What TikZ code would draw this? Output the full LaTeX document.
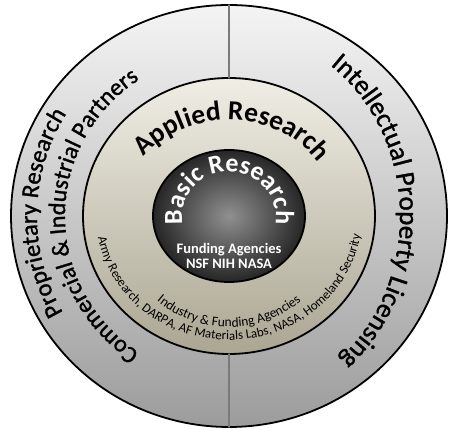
\documentclass[tikz,border=0pt]{standalone}
\usepackage{fontspec}
\setmainfont{Carlito}
\newfontfamily\heavyfont[FakeBold=1.2]{Carlito}
\usetikzlibrary{shapes.geometric,decorations.text}
\definecolor{outtop}{HTML}{F4F4F4}
\definecolor{outbot}{HTML}{9C9C9C}
\definecolor{midtop}{HTML}{F0EEE5}
\definecolor{midbot}{HTML}{ABA692}
\definecolor{inlight}{HTML}{909090}
\definecolor{indark}{HTML}{262626}
\definecolor{divgray}{HTML}{7A7A7A}
\tikzset{
  ring/.style={ellipse, draw=black, line width=1.8pt, inner sep=0pt, outer sep=0pt},
  divider/.style={draw=divgray, line width=1.4pt},
  arctext/.style={decorate, decoration={text along path, text align=center, text={#1}}},
}
\begin{document}
\begin{tikzpicture}[x=1pt, y=1pt, line join=round, line cap=round]
	\def\cx{229} \def\cy{214} % centre
	\useasboundingbox (0,0) rectangle (450,430);
	\coordinate (C) at (\cx,\cy);
	% rings
	\node[ring, minimum width=436pt, minimum height=422pt, top color=outtop, bottom color=outbot] (outer) at (C) {};
	\node[ring, minimum width=292pt, minimum height=276pt, top color=midtop, bottom color=midbot] (middle) at (C) {};
	\draw[divider] (outer.north) -- (middle.north);
	\draw[divider] (middle.south) -- (outer.south);
	\node[ring, minimum width=152pt, minimum height=132pt, inner color=inlight, outer color=indark] (inner) at (C) {};
	% outer ring
	\path[shift={(C)}, arctext={|\heavyfont\fontsize{24.5}{24.5}\selectfont|Proprietary Research}]
		(269:192 and 192) arc[start angle=269, end angle=89, x radius=192, y radius=192];
	\path[shift={(C)}, arctext={|\heavyfont\fontsize{24}{24}\selectfont|Commercial {\&} Industrial Partners}]
		(270:164 and 163) arc[start angle=270, end angle=90, x radius=164, y radius=163];
	\path[shift={(C)}, arctext={|\heavyfont\fontsize{27}{27}\selectfont|Intellectual Property Licensing}]
		(92:171 and 187) arc[start angle=92, end angle=-88, x radius=171, y radius=187];
	% middle ring
	\path[shift={(C)}, arctext={|\bfseries\fontsize{27.5}{27.5}\selectfont|Applied Research}]
		(178:108 and 96) arc[start angle=178, end angle=-2, x radius=108, y radius=96];
	\path[shift={(C)}, arctext={|\fontsize{13.5}{13.5}\selectfont|Industry {\&} Funding Agencies}]
		(180:112 and 111) arc[start angle=180, end angle=360, x radius=112, y radius=111];
	\path[shift={(C)}, arctext={|\fontsize{13}{13}\selectfont|Army Research, DARPA, AF Materials Labs, NASA, Homeland Security}]
		(175:133 and 124) arc[start angle=175, end angle=366, x radius=133, y radius=124];
	% inner disc
	\path[shift={(C)}, decorate, decoration={text along path, text align=center, text color=white,
		text={|\bfseries\fontsize{26}{26}\selectfont|Basic Research}}]
		(210:47 and 44) arc[start angle=210, end angle=-30, x radius=47, y radius=44];
	\node[font=\bfseries\fontsize{14.5}{15}\selectfont, text=white, align=center] (funding) at (229,174.5) {Funding Agencies\\NSF NIH NASA};
\end{tikzpicture}
\end{document}
